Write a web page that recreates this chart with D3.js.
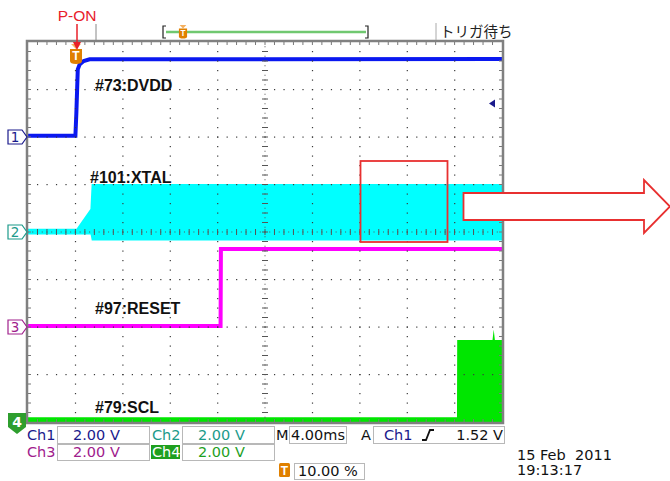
<!DOCTYPE html>
<html><head><meta charset="utf-8">
<script src="https://cdn.jsdelivr.net/npm/d3@7"></script>
<style>body{margin:0;background:#fff}svg{display:block}</style>
</head><body>
<script>
// ---------- data ----------
const timeDomain = [-4, 36];          // ms (4.00 ms/div, trigger at 10 %)
const voltsPerDiv = 2;
const channelNames = ["#73:DVDD", "#101:XTAL", "#97:RESET", "#79:SCL"];
const channelOffsets = [2, 0, -2, -4]; // ground marker position, divisions
// Ch1 DVDD
const ch1Times = [-4, 0.0, 0.08, 0.2, 0.35, 0.7, 1.2, 36];
const ch1Volts = [0.05, 0.05, 1.0, 2.85, 3.05, 3.2, 3.27, 3.28];
// Ch2 XTAL envelope
const ch2Times = [-4, 0.15, 1.35, 1.45, 36];
const ch2Upper = [0.1, 0.1, 0.95, 1.98, 1.98];
const ch2Lower = [-0.06, -0.06, -0.06, -0.32, -0.32];
// Ch3 RESET
const ch3Times = [-4, 12.25, 12.28, 36];
const ch3Volts = [0.04, 0.04, 3.28, 3.28];
// Ch4 SCL (envelope top)
const ch4Times = [-4, 32.2, 32.22, 35.2, 35.3, 35.4, 36];
const ch4Volts = [0.2, 0.2, 3.45, 3.45, 3.9, 3.45, 3.45];
// readouts
const scaleLabels = ["Ch1", "Ch2", "Ch3", "Ch4"];
const scaleValues = ["2.00 V", "2.00 V", "2.00 V", "2.00 V"];
const timebaseLabel = "4.00ms";
const triggerSource = "Ch1";
const triggerLevel = "1.52 V";
const triggerPos = "10.00 %";
const dateLines = ["15 Feb  2011", "19:13:17"];
const statusText = "トリガ待ち";
const annotation = "P-ON";

// ---------- layout ----------
const W = 670, H = 481;
const svg = d3.select("body").append("svg").attr("width", W).attr("height", H);
const x = d3.scaleLinear().domain(timeDomain).range([28, 502]);
const gx = d3.scaleLinear().domain([0, 10]).range([28, 502]);
const gy = d3.scaleLinear().domain([-4, 4]).range([422, 42]);
const yOf = (ch, v) => gy(channelOffsets[ch] + v / voltsPerDiv);
const colors = ["#0a18f0", "#00ffff", "#ff00ff", "#00e600"];
const labelColors = ["#1a1a8c", "#1b9a8a", "#a0208c", "#1f9f1f"];

svg.append("defs").append("clipPath").attr("id", "pc")
  .append("rect").attr("x", 28).attr("y", 42).attr("width", 474).attr("height", 380);
const traces = svg.append("g").attr("clip-path", "url(#pc)");

// Ch2 band
const ch2 = ch2Times.map((t, i) => ({t, u: ch2Upper[i], l: ch2Lower[i]}));
traces.append("path").datum(ch2)
  .attr("d", d3.area().x(d => x(d.t)).y0(d => yOf(1, d.l)).y1(d => yOf(1, d.u)))
  .attr("fill", colors[1]).attr("stroke", colors[1]).attr("stroke-width", 2);
// Ch4 block
const ch4 = ch4Times.map((t, i) => ({t, v: ch4Volts[i]}));
traces.append("path").datum(ch4)
  .attr("d", d3.area().x(d => x(d.t)).y0(gy(-4) + 2).y1(d => yOf(3, d.v)))
  .attr("fill", colors[3]);
// Ch3
traces.append("path").datum(ch3Times.map((t, i) => ({t, v: ch3Volts[i]})))
  .attr("d", d3.line().x(d => x(d.t)).y(d => yOf(2, d.v)))
  .attr("fill", "none").attr("stroke", colors[2]).attr("stroke-width", 4);
// Ch1
traces.append("path").datum(ch1Times.map((t, i) => ({t, v: ch1Volts[i]})))
  .attr("d", d3.line().x(d => x(d.t)).y(d => yOf(0, d.v)))
  .attr("fill", "none").attr("stroke", colors[0]).attr("stroke-width", 4);

// ---------- graticule (drawn over traces) ----------
const grid = svg.append("g");
const dotC = "#3a3a3a";
const sub = 0.2;
for (let i = 1; i < 10; i++) {
  if (i === 5) continue;
  for (let k = -4 + sub; k < 4 - 1e-6; k += sub)
    grid.append("rect").attr("x", gx(i) - 0.5).attr("y", gy(k) - 0.5).attr("width", 1.2).attr("height", 1.2).attr("fill", dotC);
}
for (let j = -3; j <= 3; j++) {
  if (j === 0) continue;
  for (let k = sub; k < 10 - 1e-6; k += sub)
    grid.append("rect").attr("x", gx(k) - 0.5).attr("y", gy(j) - 0.5).attr("width", 1.2).attr("height", 1.2).attr("fill", dotC);
}
// center axes with minor ticks
for (let k = 0; k < 10 - 1e-6; k += sub / 2)
  grid.append("rect").attr("x", gx(k) - 0.5).attr("y", gy(0) - 0.5).attr("width", 1).attr("height", 1).attr("fill", "#555");
for (let k = sub; k < 10 - 1e-6; k += sub)
  grid.append("line").attr("x1", gx(k)).attr("x2", gx(k)).attr("y1", gy(0) - 3).attr("y2", gy(0) + 3).attr("stroke", "#555").attr("stroke-width", 1);
for (let k = -4; k < 4 - 1e-6; k += sub / 2)
  grid.append("rect").attr("x", gx(5) - 0.5).attr("y", gy(k) - 0.5).attr("width", 1).attr("height", 1).attr("fill", "#555");
for (let k = -4 + sub; k < 4 - 1e-6; k += sub)
  grid.append("line").attr("x1", gx(5) - 3).attr("x2", gx(5) + 3).attr("y1", gy(k)).attr("y2", gy(k)).attr("stroke", "#555").attr("stroke-width", 1);
// border ticks
for (let k = sub; k < 10 - 1e-6; k += sub) {
  grid.append("line").attr("x1", gx(k)).attr("x2", gx(k)).attr("y1", 42).attr("y2", 45).attr("stroke", "#777");
  grid.append("line").attr("x1", gx(k)).attr("x2", gx(k)).attr("y1", 419).attr("y2", 422).attr("stroke", "#777");
}
for (let k = -4 + sub; k < 4 - 1e-6; k += sub) {
  grid.append("line").attr("x1", 28).attr("x2", 31).attr("y1", gy(k)).attr("y2", gy(k)).attr("stroke", "#777");
  grid.append("line").attr("x1", 499).attr("x2", 502).attr("y1", gy(k)).attr("y2", gy(k)).attr("stroke", "#777");
}
// frame
svg.append("rect").attr("x", 27).attr("y", 41).attr("width", 476).attr("height", 382)
  .attr("fill", "none").attr("stroke", "#808080").attr("stroke-width", 2.5);

// ---------- channel labels ----------
const labelFont = "'Liberation Sans', Arial, sans-serif";
const labelPos = [[95, 91], [90, 183], [95, 314], [95, 413]];
channelNames.forEach((n, i) => {
  svg.append("text").attr("x", labelPos[i][0]).attr("y", labelPos[i][1]).text(n)
    .attr("font-family", labelFont).attr("font-weight", "bold").attr("font-size", 16).attr("fill", "#111");
});

// ground markers
[0, 1, 2].forEach(i => {
  const yc = yOf(i, 0);
  svg.append("path").attr("d", `M8,${yc - 7}H22L27,${yc}L22,${yc + 7}H8Z`)
    .attr("fill", "#fff").attr("stroke", labelColors[i]).attr("stroke-width", 1.2);
  svg.append("text").attr("x", 15).attr("y", yc + 5).attr("text-anchor", "middle").text(String(i + 1))
    .attr("font-family", "'DejaVu Sans', sans-serif").attr("font-size", 13.5).attr("fill", labelColors[i]);
});
{
  const yc = gy(-4);
  svg.append("path").attr("d", `M8,${yc - 9}H26V${yc + 5}L17,${yc + 12}L8,${yc + 5}Z`).attr("fill", "#2e9e2e");
  svg.append("text").attr("x", 17).attr("y", yc + 5).attr("text-anchor", "middle").text("4")
    .attr("font-family", "'DejaVu Sans', sans-serif").attr("font-weight", "bold").attr("font-size", 14).attr("fill", "#fff");
}
// right-side ch1 indicator
svg.append("path").attr("d", "M489,103.5L495,99.5V107.5Z").attr("fill", "#1a1a8c");

// trigger marker on plot
function tMarker(g, cx, top, s) {
  g.append("path").attr("d", `M${cx - 5 * s},${top}H${cx + 5 * s}L${cx},${top + 5 * s}Z`).attr("fill", "#f4b060");
  g.append("path").attr("d", `M${cx - 6 * s},${top + 5 * s}H${cx + 6 * s}V${top + 17 * s}Q${cx + 6 * s},${top + 20 * s} ${cx},${top + 20 * s}Q${cx - 6 * s},${top + 20 * s} ${cx - 6 * s},${top + 17 * s}Z`).attr("fill", "#e08000");
  g.append("text").attr("x", cx).attr("y", top + 16 * s).attr("text-anchor", "middle").text("T")
    .attr("font-family", labelFont).attr("font-weight", "bold").attr("font-size", 12 * s).attr("fill", "#fff");
}
tMarker(svg, x(0) + 0.6, 44, 1);

// P-ON annotation
svg.append("text").attr("x", 77).attr("y", 21).attr("text-anchor", "middle").text(annotation)
  .attr("font-family", labelFont).attr("font-size", 15.5).attr("fill", "#e8202a");
svg.append("line").attr("x1", 77).attr("x2", 77).attr("y1", 24).attr("y2", 44).attr("stroke", "#e8202a").attr("stroke-width", 1.5);
svg.append("path").attr("d", "M73,42L81,42L77,50Z").attr("fill", "#e8202a");

// top record bar
svg.append("line").attr("x1", 96).attr("x2", 96).attr("y1", 24).attr("y2", 40).attr("stroke", "#888");
svg.append("line").attr("x1", 166).attr("x2", 366).attr("y1", 32).attr("y2", 32).attr("stroke", "#70c870").attr("stroke-width", 2.5);
svg.append("path").attr("d", "M166,26H163V38H166").attr("fill", "none").attr("stroke", "#222").attr("stroke-width", 1.2);
svg.append("path").attr("d", "M365,26H368V38H365").attr("fill", "none").attr("stroke", "#222").attr("stroke-width", 1.2);
tMarker(svg, 183, 25, 0.68);
svg.append("line").attr("x1", 436).attr("x2", 436).attr("y1", 23).attr("y2", 40).attr("stroke", "#aaa");
svg.append("text").attr("x", 440).attr("y", 37).text(statusText)
  .attr("font-family", "'Noto Sans CJK JP', sans-serif").attr("font-size", 14.5).attr("fill", "#222");

// zoom rectangle + arrow
svg.append("rect").attr("x", 360.5).attr("y", 161).attr("width", 87).attr("height", 81)
  .attr("fill", "none").attr("stroke", "#e83030").attr("stroke-width", 1.8);
svg.append("path").attr("d", "M463.5,193H644V180L670,206.5L644,233V220H463.5Z")
  .attr("fill", "#fff").attr("stroke", "#e83030").attr("stroke-width", 1.8);

// ---------- readouts ----------
const rf = "'DejaVu Sans', sans-serif";
function box(x0, y0, w, h) {
  svg.append("rect").attr("x", x0 + 0.5).attr("y", y0 + 0.5).attr("width", w).attr("height", h)
    .attr("fill", "#fff").attr("stroke", "#b8b8b8");
}
function txt(s, x0, y0, c, anchor) {
  return svg.append("text").attr("x", x0).attr("y", y0).text(s).attr("font-family", rf)
    .attr("font-size", 14.5).attr("fill", c).attr("text-anchor", anchor || "start")
    .style("white-space", "pre");
}
box(57, 426, 92, 17); box(182, 426, 92, 17);
box(57, 444, 92, 16); box(182, 444, 92, 16);
txt(scaleLabels[0], 27, 440, labelColors[0]);
txt(scaleValues[0], 73, 440, labelColors[0]);
txt(scaleLabels[1], 152, 440, labelColors[1]);
txt(scaleValues[1], 198, 440, labelColors[1]);
txt(scaleLabels[2], 27, 457, labelColors[2]);
txt(scaleValues[2], 73, 457, labelColors[2]);
svg.append("rect").attr("x", 151).attr("y", 445).attr("width", 29).attr("height", 14).attr("fill", "#1f9f1f");
txt(scaleLabels[3], 152, 457, "#fff");
txt(scaleValues[3], 198, 457, labelColors[3]);
txt("M", 276, 440, "#111");
box(289, 426, 57, 17);
txt(timebaseLabel, 291, 440, "#111");
txt("A", 361, 440, "#111");
box(373, 426, 131, 17);
txt(triggerSource, 384, 440, labelColors[0]);
svg.append("path").attr("d", "M422,440H426L430,430H434").attr("fill", "none").attr("stroke", "#111").attr("stroke-width", 1.8);
txt(triggerLevel, 503, 440, "#111", "end");
svg.append("rect").attr("x", 279).attr("y", 463).attr("width", 11).attr("height", 14).attr("rx", 1.5).attr("fill", "#e08000");
svg.append("text").attr("x", 284.5).attr("y", 475).attr("text-anchor", "middle").text("T")
  .attr("font-family", labelFont).attr("font-weight", "bold").attr("font-size", 12).attr("fill", "#fff");
box(294, 463, 70, 16);
txt(triggerPos, 298, 476, "#111");
txt(dateLines[0], 517, 460, "#111");
txt(dateLines[1], 517, 475, "#111");
</script>
</body></html>
